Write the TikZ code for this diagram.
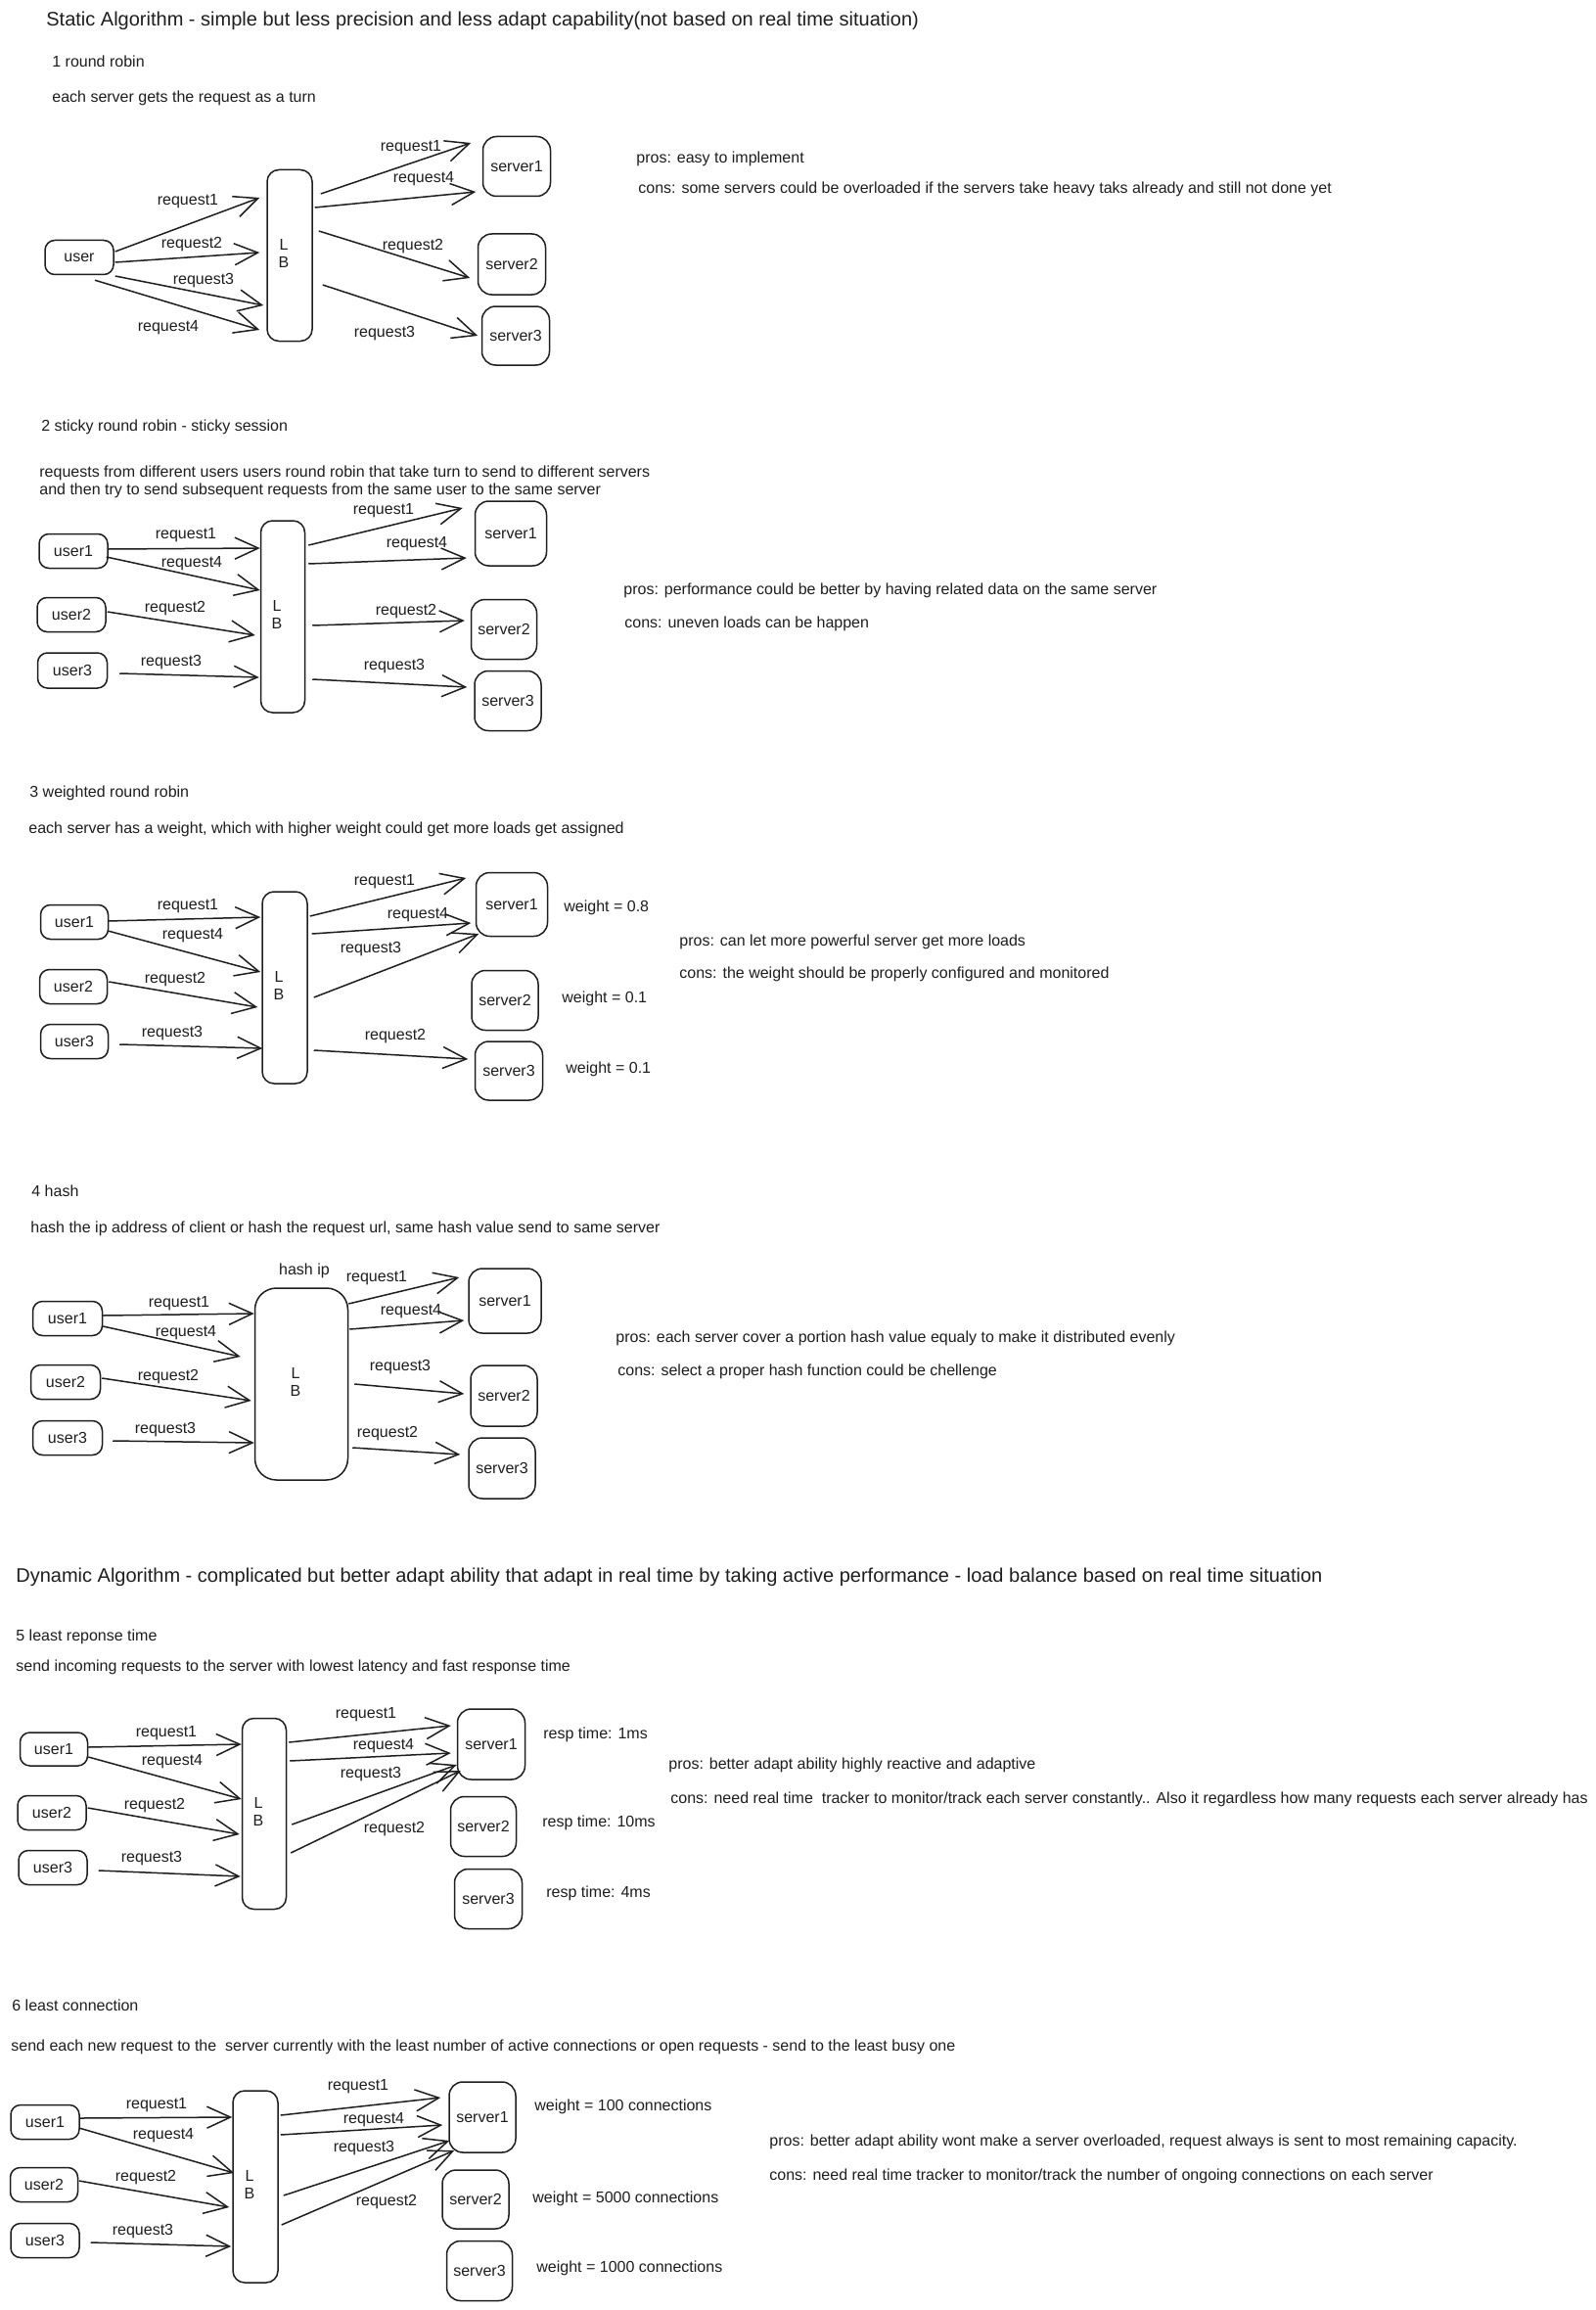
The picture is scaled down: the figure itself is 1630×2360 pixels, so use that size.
\documentclass[tikz,border=0pt]{standalone}
\usepackage{fontspec}
\setmainfont{Liberation Sans}
\usetikzlibrary{arrows.meta,calc}
\definecolor{ink}{HTML}{1E1E1E}
% text of a load balancer box, set a little above and left of its centre
\newcommand{\lbtext}{\hspace*{-6pt}\raisebox{7pt}{\begin{tabular}{@{}c@{}}L\\B\end{tabular}}}
\begin{document}
\begin{tikzpicture}[x=0.5pt,y=-0.5pt,
  every node/.style={text=ink},
  txt/.style={font=\fontsize{8}{9.6}\selectfont, inner sep=0pt, anchor=west},
  lbl/.style={font=\fontsize{8}{9.6}\selectfont, inner sep=0pt},
  head/.style={font=\fontsize{10}{12}\selectfont, inner sep=0pt, anchor=west},
  box/.style={draw=ink, line width=0.75pt, rounded corners=5pt, inner sep=0pt,
    font=\fontsize{8}{9.6}\selectfont, align=center},
  client/.style={box, minimum width=35pt, minimum height=17.5pt},
  srv/.style={box, rounded corners=7pt, minimum width=34.5pt, minimum height=31pt},
  lb/.style={draw=ink, line width=0.75pt, rounded corners=6pt, inner sep=0pt,
    minimum width=23pt, minimum height=98pt, font=\fontsize{8}{9}\selectfont},
  arr/.style={draw=ink, line width=0.75pt, -{Straight Barb[length=12pt,width=11pt]}}
]
\fill[white] (0,0) rectangle (1630,2360);
\path[use as bounding box] (0,0) rectangle (1630,2360);

% ---------------- static algorithms ----------------
\node[head] (statictitle) at (47,21) {Static Algorithm - simple but less precision and less adapt capability(not based on real time situation)};

% 1 round robin
\node[txt] (t1) at (53,63) {1 round robin};
\node[txt] (d1) at (53,100) {each server gets the request as a turn};
\node[client] (a-user) at (81,263) {user};
\node[lb, minimum height=87.5pt] (a-lb) at (296,261) {\lbtext};
\node[srv, minimum height=30.5pt] (a-s1) at (528,170) {server1};
\node[srv] (a-s2) at (523,270) {server2};
\node[srv, minimum height=30pt] (a-s3) at (527,343) {server3};
\draw[arr] ($(a-user.east)+(1,-6)$) -- ($(a-lb.west)+(-7,-59)$);
\draw[arr] ($(a-user.east)+(1,5)$) -- ($(a-lb.west)+(-7,-3)$);
\draw[arr] ($(a-user.east)+(1,19)$) -- ($(a-lb.west)+(-3,51)$);
\draw[arr] ($(a-user.south)+(16,5)$) -- ($(a-lb.west)+(-7,76)$);
\draw[arr] ($(a-lb.east)+(8,-63)$) -- ($(a-s1.west)+(-11.5,-24)$);
\draw[arr] ($(a-lb.east)+(2,-49)$) -- ($(a-s1.west)+(-6.5,26)$);
\draw[arr] ($(a-lb.east)+(6,-25)$) -- ($(a-s2.west)+(-7.5,14)$);
\draw[arr] ($(a-lb.east)+(10,30)$) -- ($(a-s3.west)+(-3.5,0)$);
\node[lbl] (a-l1) at (192,206) {request1};
\node[lbl] (a-l2) at (196,250) {request2};
\node[lbl] (a-l3) at (208,287) {request3};
\node[lbl] (a-l4) at (172,335) {request4};
\node[lbl] (a-l5) at (420,151) {request1};
\node[lbl] (a-l6) at (433,183) {request4};
\node[lbl] (a-l7) at (422,252) {request2};
\node[lbl] (a-l8) at (393,341) {request3};
\node[txt] (a-pro) at (650,162) {pros: easy to implement};
\node[txt] (a-con) at (652,193) {cons: some servers could be overloaded if the servers take heavy taks already and still not done yet};

% 2 sticky round robin
\node[txt] (t2) at (42,436) {2 sticky round robin - sticky session};
\node[txt] (d2a) at (40,483) {requests from different users users round robin that take turn to send to different servers};
\node[txt] (d2b) at (40,501) {and then try to send subsequent requests from the same user to the same server};
\node[client] (b-u1) at (75,563) {user1};
\node[client] (b-u2) at (73,628) {user2};
\node[client, minimum width=35.5pt, minimum height=18pt] (b-u3) at (74,685) {user3};
\node[lb, minimum width=22.5pt] (b-lb) at (289,630) {\lbtext};
\node[srv, minimum width=36.5pt, minimum height=33pt] (b-s1) at (522,545) {server1};
\node[srv, minimum width=33.5pt, minimum height=30.5pt] (b-s2) at (515,643) {server2};
\node[srv, minimum width=34pt, minimum height=30.5pt] (b-s3) at (519,716) {server3};
\draw[arr] ($(b-u1.east)+(0,-2)$) -- ($(b-lb.west)+(0,-70)$);
\draw[arr] ($(b-u1.east)+(-2,6)$) -- ($(b-lb.west)+(0,-27)$);
\draw[arr] ($(b-u2.east)+(1,-3)$) -- ($(b-lb.west)+(-5,19)$);
\draw[arr] ($(b-u3.east)+(12,3)$) -- ($(b-lb.west)+(-1,62)$);
\draw[arr] ($(b-lb.east)+(3,-73)$) -- ($(b-s1.west)+(-12,-26)$);
\draw[arr] ($(b-lb.east)+(3,-54)$) -- ($(b-s1.west)+(-8,25)$);
\draw[arr] ($(b-lb.east)+(7,9)$) -- ($(b-s2.west)+(-6,-9)$);
\draw[arr] ($(b-lb.east)+(7,64)$) -- ($(b-s3.west)+(-7,-14)$);
\node[lbl] (b-l1) at (190,547) {request1};
\node[lbl] (b-l2) at (196,576) {request4};
\node[lbl] (b-l3) at (179,622) {request2};
\node[lbl] (b-l4) at (175,677) {request3};
\node[lbl] (b-l5) at (392,522) {request1};
\node[lbl] (b-l6) at (426,556) {request4};
\node[lbl] (b-l7) at (415,625) {request2};
\node[lbl] (b-l8) at (403,681) {request3};
\node[txt] (b-pro) at (637,603) {pros: performance could be better by having related data on the same server};
\node[txt] (b-con) at (638,637) {cons: uneven loads can be happen};

% 3 weighted round robin
\node[txt] (t3) at (30,810) {3 weighted round robin};
\node[txt] (d3) at (29,847) {each server has a weight, which with higher weight could get more loads get assigned};
\node[client, minimum width=34.5pt] (c-u1) at (76,942) {user1};
\node[client, minimum width=34.5pt] (c-u2) at (75,1008) {user2};
\node[client, minimum width=34.5pt] (c-u3) at (76,1064) {user3};
\node[lb] (c-lb) at (291,1009) {\lbtext};
\node[srv, minimum width=36.5pt, minimum height=32.5pt] (c-s1) at (523,924) {server1};
\node[srv, minimum width=34pt, minimum height=30.5pt] (c-s2) at (516,1022) {server2};
\node[srv, minimum height=30pt] (c-s3) at (520,1094) {server3};
\draw[arr] ($(c-u1.east)+(-1,-1)$) -- ($(c-lb.west)+(-1,-72)$);
\draw[arr] ($(c-u1.east)+(-1,9)$) -- ($(c-lb.west)+(-1,-16)$);
\draw[arr] ($(c-u2.east)+(1,-5)$) -- ($(c-lb.west)+(-4,20)$);
\draw[arr] ($(c-u3.east)+(11,3)$) -- ($(c-lb.west)+(1,62)$);
\draw[arr] ($(c-lb.east)+(2,-73)$) -- ($(c-s1.west)+(-9.5,-27)$);
\draw[arr] ($(c-lb.east)+(4,-55)$) -- ($(c-s1.west)+(-4.5,19)$);
\draw[arr] ($(c-lb.east)+(6,10)$) -- ($(c-s1.west)+(3.5,30)$);
\draw[arr] ($(c-lb.east)+(6,64)$) -- ($(c-s3.west)+(-6.5,-12)$);
\node[lbl] (c-l1) at (192,926) {request1};
\node[lbl] (c-l2) at (197,956) {request4};
\node[lbl] (c-l3) at (179,1001) {request2};
\node[lbl] (c-l4) at (176,1056) {request3};
\node[lbl] (c-l5) at (393,901) {request1};
\node[lbl] (c-l6) at (427,935) {request4};
\node[lbl] (c-l7) at (379,970) {request3};
\node[lbl] (c-l8) at (404,1059) {request2};
\node[txt] (c-w1) at (576,927) {weight = 0.8};
\node[txt] (c-w2) at (574,1020) {weight = 0.1};
\node[txt] (c-w3) at (578,1092) {weight = 0.1};
\node[txt] (c-pro) at (694,962) {pros: can let more powerful server get more loads};
\node[txt] (c-con) at (694,995) {cons: the weight should be properly configured and monitored};

% 4 hash
\node[txt] (t4) at (32,1217) {4 hash};
\node[txt] (d4) at (31,1255) {hash the ip address of client or hash the request url, same hash value send to same server};
\node[client, minimum width=35.5pt] (d-u1) at (69,1347) {user1};
\node[client, minimum width=35.5pt] (d-u2) at (67,1412) {user2};
\node[client, minimum width=35.5pt] (d-u3) at (69,1469) {user3};
\node[lb, minimum width=47.5pt, rounded corners=11pt] (d-lb) at (308,1414) {\lbtext};
\node[lbl] (d-hash) at (311,1298) {hash ip};
\node[srv, minimum width=37pt, minimum height=33pt] (d-s1) at (516,1329) {server1};
\node[srv, minimum width=34pt] (d-s2) at (515,1426) {server2};
\node[srv, minimum width=34pt] (d-s3) at (513,1500) {server3};
\draw[arr] ($(d-u1.east)+(0,-3)$) -- ($(d-lb.west)+(0,-72)$);
\draw[arr] ($(d-u1.east)+(0,8)$) -- ($(d-lb.west)+(-14,-28)$);
\draw[arr] ($(d-u2.east)+(1,-4)$) -- ($(d-lb.west)+(-3,17)$);
\draw[arr] ($(d-u3.east)+(10,3)$) -- ($(d-lb.west)+(0,60)$);
\draw[arr] ($(d-lb.east)+(0,-82)$) -- ($(d-s1.west)+(-9,-24)$);
\draw[arr] ($(d-lb.east)+(1,-56)$) -- ($(d-s1.west)+(-4,20)$);
\draw[arr] ($(d-lb.east)+(6,0)$) -- ($(d-s2.west)+(-6,-2)$);
\draw[arr] ($(d-lb.east)+(4,65)$) -- ($(d-s3.west)+(-8,-14)$);
\node[lbl] (d-l1) at (183,1332) {request1};
\node[lbl] (d-l2) at (190,1362) {request4};
\node[lbl] (d-l3) at (172,1407) {request2};
\node[lbl] (d-l4) at (169,1461) {request3};
\node[lbl] (d-l5) at (385,1306) {request1};
\node[lbl] (d-l6) at (420,1340) {request4};
\node[lbl] (d-l7) at (409,1397) {request3};
\node[lbl] (d-l8) at (396,1465) {request2};
\node[txt] (d-pro) at (629,1367) {pros: each server cover a portion hash value equaly to make it distributed evenly};
\node[txt] (d-con) at (631,1401) {cons: select a proper hash function could be chellenge};

% ---------------- dynamic algorithms ----------------
\node[head] (dyntitle) at (16,1611) {Dynamic Algorithm - complicated but better adapt ability that adapt in real time by taking active performance - load balance based on real time situation};

% 5 least response time
\node[txt] (t5) at (16,1672) {5 least reponse time};
\node[txt] (d5) at (16,1703) {send incoming requests to the server with lowest latency and fast response time};
\node[client, minimum width=34.5pt, minimum height=17pt] (e-u1) at (55,1787) {user1};
\node[client] (e-u2) at (53,1852) {user2};
\node[client] (e-u3) at (54,1908) {user3};
\node[lb, minimum width=22.5pt, minimum height=97.5pt] (e-lb) at (270,1853) {\lbtext};
\node[srv, minimum height=36pt] (e-s1) at (502,1782) {server1};
\node[srv, minimum width=33.5pt, minimum height=30.5pt] (e-s2) at (494,1866) {server2};
\node[srv, minimum height=30.5pt] (e-s3) at (499,1940) {server3};
\draw[arr] ($(e-u1.east)+(0,-2)$) -- ($(e-lb.west)+(0,-71)$);
\draw[arr] ($(e-u1.east)+(0,8)$) -- ($(e-lb.west)+(0,-15)$);
\draw[arr] ($(e-u2.east)+(1,-5)$) -- ($(e-lb.west)+(-2,21)$);
\draw[arr] ($(e-u3.east)+(11,3)$) -- ($(e-lb.west)+(-1,64)$);
\draw[arr] ($(e-lb.east)+(2,-73)$) -- ($(e-s1.west)+(-6,-19)$);
\draw[arr] ($(e-lb.east)+(3,-54)$) -- ($(e-s1.west)+(-6,9)$);
\draw[arr] ($(e-lb.east)+(5,11)$) -- ($(e-s1.west)+(0,21)$);
\draw[arr] ($(e-lb.east)+(4,40)$) -- ($(e-s1.west)+(4,27)$);
\node[lbl] (e-l1) at (170,1771) {request1};
\node[lbl] (e-l2) at (176,1800) {request4};
\node[lbl] (e-l3) at (158,1845) {request2};
\node[lbl] (e-l4) at (155,1899) {request3};
\node[lbl] (e-l5) at (374,1752) {request1};
\node[lbl] (e-l6) at (392,1784) {request4};
\node[lbl] (e-l7) at (379,1813) {request3};
\node[lbl] (e-l8) at (403,1869) {request2};
\node[txt] (e-r1) at (555,1772) {resp time: 1ms};
\node[txt] (e-r2) at (554,1862) {resp time: 10ms};
\node[txt] (e-r3) at (558,1934) {resp time: 4ms};
\node[txt] (e-pro) at (683,1803) {pros: better adapt ability highly reactive and adaptive};
\node[txt] (e-con) at (685,1838) {cons: need real time\ \ tracker to monitor/track each server constantly.. Also it regardless how many requests each server already has};

% 6 least connection
\node[txt] (t6) at (12,2049) {6 least connection};
\node[txt] (d6) at (11,2091) {send each new request to the\ \ server currently with the least number of active connections or open requests - send to the least busy one};
\node[client] (f-u1) at (46,2168) {user1};
\node[client, minimum width=34.5pt] (f-u2) at (45,2232) {user2};
\node[client] (f-u3) at (46,2289) {user3};
\node[lb] (f-lb) at (261,2234) {\lbtext};
\node[srv, minimum width=34pt, minimum height=36pt] (f-s1) at (493,2163) {server1};
\node[srv, minimum width=34pt, minimum height=30pt] (f-s2) at (486,2247) {server2};
\node[srv, minimum width=33.5pt, minimum height=30.5pt] (f-s3) at (490,2320) {server3};
\draw[arr] ($(f-u1.east)+(0,-4)$) -- ($(f-lb.west)+(0,-71)$);
\draw[arr] ($(f-u1.east)+(-1,6)$) -- ($(f-lb.west)+(2,-14)$);
\draw[arr] ($(f-u2.east)+(0.5,-4)$) -- ($(f-lb.west)+(-3,21)$);
\draw[arr] ($(f-u3.east)+(11,2)$) -- ($(f-lb.west)+(-1,61)$);
\draw[arr] ($(f-lb.east)+(2,-73)$) -- ($(f-s1.west)+(-8,-20)$);
\draw[arr] ($(f-lb.east)+(2,-53)$) -- ($(f-s1.west)+(-6,8)$);
\draw[arr] ($(f-lb.east)+(5,9)$) -- ($(f-s1.west)+(1,24)$);
\draw[arr] ($(f-lb.east)+(3,39)$) -- ($(f-s1.west)+(6,34)$);
\node[lbl] (f-l1) at (160,2151) {request1};
\node[lbl] (f-l2) at (167,2182) {request4};
\node[lbl] (f-l3) at (149,2225) {request2};
\node[lbl] (f-l4) at (146,2280) {request3};
\node[lbl] (f-l5) at (366,2132) {request1};
\node[lbl] (f-l6) at (382,2166) {request4};
\node[lbl] (f-l7) at (372,2195) {request3};
\node[lbl] (f-l8) at (395,2250) {request2};
\node[txt] (f-w1) at (546,2152) {weight = 100 connections};
\node[txt] (f-w2) at (544,2246) {weight = 5000 connections};
\node[txt] (f-w3) at (548,2317) {weight = 1000 connections};
\node[txt] (f-pro) at (786,2188) {pros: better adapt ability wont make a server overloaded, request always is sent to most remaining capacity.};
\node[txt] (f-con) at (786,2223) {cons: need real time tracker to monitor/track the number of ongoing connections on each server};
\end{tikzpicture}
\end{document}
